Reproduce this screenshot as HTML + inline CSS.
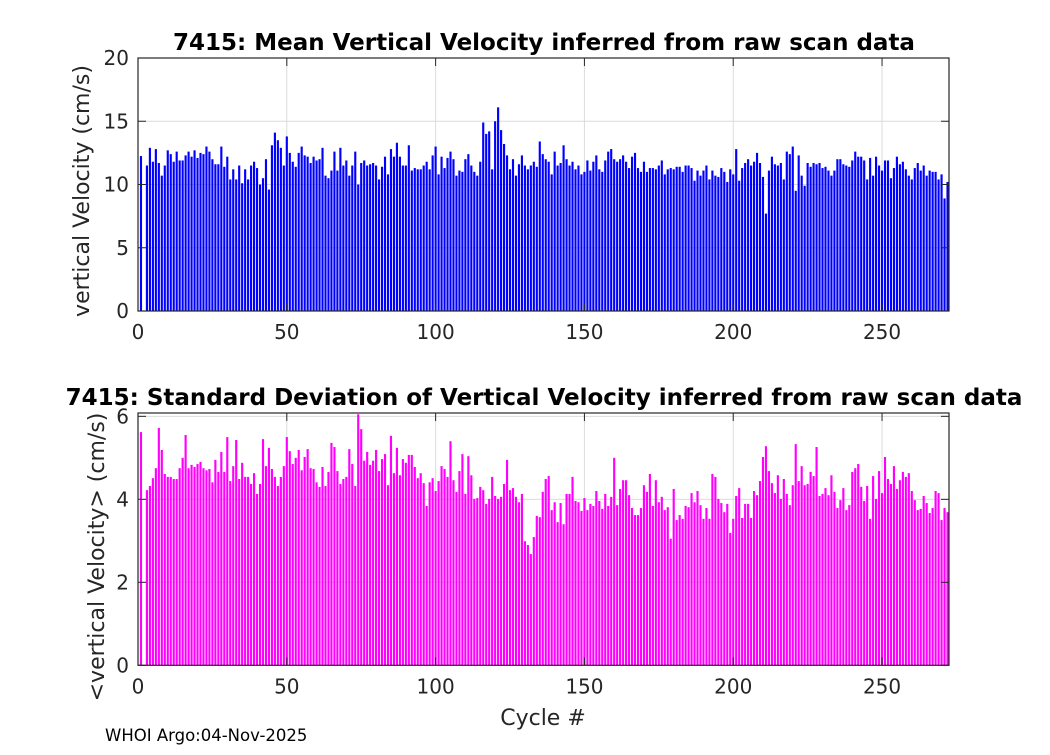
<!DOCTYPE html>
<html><head><meta charset="utf-8"><style>
body{margin:0;background:#fff;}
svg text{font-family:"DejaVu Sans","Liberation Sans",sans-serif;}
</style></head><body>
<svg id="fig" width="1050" height="750" xmlns="http://www.w3.org/2000/svg">
<rect width="1050" height="750" fill="#fff"/>
</svg>
<script>
const meanVel=[12.25,0,11.5,12.9,11.8,12.8,11.7,10.7,11.5,12.7,12.4,11.8,12.6,11.9,11.9,12.3,12.6,12.2,12.7,12.1,12.5,12.4,13.0,12.6,12.0,11.6,11.6,13.0,11.4,12.2,10.4,11.2,10.4,11.5,10.1,11.2,10.4,11.5,11.8,11.3,10.0,10.5,12.0,9.6,13.1,14.1,13.5,12.9,11.5,13.8,12.5,11.8,11.4,12.5,13.0,12.3,12.2,11.7,12.2,11.9,12.0,12.9,10.7,10.5,11.1,12.6,11.1,12.9,11.5,11.9,
10.7,11.5,12.6,10.0,11.7,11.9,11.5,11.6,11.7,11.5,10.4,11.4,12.2,10.8,12.8,12.2,13.3,12.2,11.5,11.5,13.1,11.1,11.3,11.2,11.2,11.5,11.8,11.2,12.3,13.0,10.8,12.2,11.3,12.1,12.6,12.0,10.7,11.1,11.0,12.0,12.4,11.5,11.0,10.7,11.8,14.9,14.0,14.2,11.2,15.0,16.1,14.3,13.2,12.3,11.2,12.0,10.7,11.6,12.3,11.5,11.2,11.5,11.8,11.4,13.4,12.4,12.0,11.8,10.8,
12.6,11.5,11.7,13.1,12.0,11.5,11.8,11.2,11.5,10.8,11.0,11.9,11.1,11.8,12.3,11.2,11.0,11.9,12.6,12.8,12.0,11.8,12.0,12.3,11.8,11.3,12.2,12.5,11.3,11.0,11.8,11.0,11.3,11.3,11.2,11.5,11.9,10.8,11.2,11.3,11.2,11.4,11.4,11.0,11.5,11.5,11.3,10.3,11.1,10.7,11.1,11.5,10.4,11.1,10.7,10.6,11.3,11.0,10.2,11.2,10.8,12.8,10.3,11.3,11.7,12.0,11.5,11.8,12.5,11.7,
10.6,7.7,11.1,12.2,11.6,11.5,11.7,10.4,12.6,12.4,13.0,9.5,12.3,10.7,9.9,11.7,11.4,11.7,11.6,11.7,11.3,11.4,11.1,10.7,11.1,12.0,12.0,11.6,11.5,11.4,11.9,12.6,12.2,12.2,11.9,10.4,12.1,10.7,12.2,11.5,11.1,11.9,11.9,10.5,11.3,12.2,11.6,11.8,11.2,10.7,10.4,11.3,11.7,11.1,11.5,10.7,11.1,11.0,11.0,10.4,10.8,8.9,10.2,10.7,10.4];
const stdVel=[5.62,0,4.22,4.32,4.51,4.75,5.72,5.19,4.61,4.54,4.54,4.49,4.49,4.75,5.0,5.55,4.75,4.83,4.78,4.85,4.9,4.75,4.7,4.73,4.41,4.95,4.66,5.14,4.66,5.5,4.44,4.8,5.43,4.49,4.88,4.54,4.54,4.37,4.63,4.13,4.37,5.45,4.8,5.24,4.73,4.54,4.32,4.54,4.8,5.5,5.16,4.85,5.0,5.19,4.7,5.02,5.21,4.75,4.73,4.41,4.3,4.78,4.32,4.66,5.36,5.26,4.68,4.37,4.49,4.54,
5.21,4.85,4.32,6.05,5.69,4.93,5.14,4.83,4.93,5.19,4.68,4.97,5.09,4.34,5.53,4.63,5.24,4.58,4.97,4.88,5.07,5.07,4.78,4.51,4.63,4.39,3.84,4.41,4.51,4.2,4.44,4.8,4.73,4.54,5.4,4.46,4.18,4.68,5.09,4.13,5.04,4.58,4.01,4.03,4.3,4.22,3.89,4.01,4.54,4.08,4.01,4.06,4.37,4.95,4.22,4.27,4.06,3.93,4.13,2.99,2.9,2.68,3.09,3.6,3.57,4.18,4.49,4.56,3.74,
3.93,3.45,3.91,3.4,4.13,4.13,4.54,3.96,3.93,3.72,4.03,3.74,3.89,3.84,4.2,3.96,3.77,4.13,3.84,4.06,5.0,3.86,4.25,4.46,4.46,4.1,3.79,3.62,3.62,3.79,4.34,4.18,4.61,3.84,4.46,3.93,4.06,3.74,3.81,3.05,4.25,3.5,3.62,3.53,3.84,3.81,4.15,3.93,4.2,3.86,3.53,3.79,3.53,4.61,4.54,4.01,3.91,3.69,3.89,3.19,3.53,4.08,4.27,3.55,3.89,3.89,3.55,4.2,4.1,4.44,
5.02,5.28,4.68,4.39,4.15,4.58,4.01,4.49,4.13,3.86,4.34,5.33,4.44,4.8,4.34,4.37,4.66,4.56,5.26,4.08,4.13,4.27,4.1,4.58,4.18,3.79,3.98,4.27,3.74,3.86,4.66,4.75,4.85,4.3,3.96,4.32,3.53,4.56,4.01,4.68,4.15,5.02,4.49,4.37,4.8,4.25,4.46,4.66,4.54,4.63,4.2,3.98,3.74,3.77,4.08,3.91,3.67,3.79,4.2,4.15,3.5,3.79,3.69,3.6,3.67];
const xTicks=[0,50,100,150,200,250];
const topYTicks=[0,5,10,15,20];
const botYTicks=[0,2,4,6];
const NS='http://www.w3.org/2000/svg';
const svg=document.getElementById('fig');
function mk(tag,attrs,parent){const e=document.createElementNS(NS,tag);for(const k in attrs)e.setAttribute(k,attrs[k]);(parent||svg).appendChild(e);return e;}
const X0=138,X1=949,XMAX=272.5;
function xs(v){return X0+v/XMAX*(X1-X0);}
function drawPanel(cfg){
  const g=mk('g',{});
  
  
  const ys=v=>cfg.y1-(v-0)/cfg.ymax*(cfg.y1-cfg.y0);
  const clipId=cfg.name+'-clip';
  const cp=mk('clipPath',{id:clipId},g);mk('rect',{x:X0,y:cfg.y0,width:X1-X0,height:cfg.y1-cfg.y0},cp);
  xTicks.forEach(t=>{const l=mk('line',{x1:xs(t),x2:xs(t),y1:cfg.y0,y2:cfg.y1,stroke:'#dcdcdc','stroke-width':1},g);});
  cfg.yt.forEach(t=>{const l=mk('line',{x1:X0,x2:X1,y1:ys(t),y2:ys(t),stroke:'#dcdcdc','stroke-width':1},g);});
  const bg=mk('g',{'clip-path':'url(#'+clipId+')'},g);
  
  
  const step=(X1-X0)/XMAX, bw=step*0.72;
  cfg.data.forEach((v,i)=>{if(v<=0)return;const cx=xs(i+1);
    const r=mk('rect',{x:cx-bw/2,y:ys(v),width:bw,height:ys(0)-ys(v),fill:cfg.color},bg);
    
    });
  const b=mk('rect',{x:X0,y:cfg.y0,width:X1-X0,height:cfg.y1-cfg.y0,fill:'none',stroke:'#262626','stroke-width':1.2},g);
  
  xTicks.forEach(t=>{mk('line',{x1:xs(t),x2:xs(t),y1:cfg.y1,y2:cfg.y1-8,stroke:'#262626'},g);mk('line',{x1:xs(t),x2:xs(t),y1:cfg.y0,y2:cfg.y0+8,stroke:'#262626'},g);
    const tx=mk('text',{x:xs(t),y:cfg.y1+28,'font-size':20,'text-anchor':'middle',fill:'#262626'},g);tx.textContent=t;
    });
  cfg.yt.forEach(t=>{mk('line',{x1:X0,x2:X0+8,y1:ys(t),y2:ys(t),stroke:'#262626'},g);mk('line',{x1:X1,x2:X1-8,y1:ys(t),y2:ys(t),stroke:'#262626'},g);
    const tx=mk('text',{x:X0-9,y:ys(t)+7,'font-size':20,'text-anchor':'end',fill:'#262626'},g);tx.textContent=t;
    });
  const ti=mk('text',{x:cfg.tx,y:cfg.y0-8,'font-size':23,'font-weight':'bold','text-anchor':'middle',fill:'#000'},g);ti.textContent=cfg.title;
  
  const yl=mk('text',{x:0,y:0,'font-size':22,'text-anchor':'middle',fill:'#262626',transform:'translate('+cfg.ylx+','+cfg.ylc+') rotate(-90)'},g);yl.textContent=cfg.ylabel;
  
}
drawPanel({name:'mean-velocity-chart',data:meanVel,y0:58,y1:311,ymax:20,yt:topYTicks,color:'#0000ff',title:'7415: Mean Vertical Velocity inferred from raw scan data',tx:544,ylabel:'vertical Velocity (cm/s)',ylx:89,ylc:191});
drawPanel({name:'std-velocity-chart',data:stdVel,y0:413,y1:665.3,ymax:6.08,yt:botYTicks,color:'#ff00ff',title:'7415: Standard Deviation of Vertical Velocity inferred from raw scan data',tx:544,ylabel:'<vertical Velocity> (cm/s)',ylx:104,ylc:557});
const xl=mk('text',{x:543,y:725,'font-size':22,'text-anchor':'middle',fill:'#262626'});xl.textContent='Cycle #';


const ft=mk('text',{x:105,y:741,'font-size':16.5,fill:'#000'});ft.textContent='WHOI Argo:04-Nov-2025';


</script>
</body></html>
